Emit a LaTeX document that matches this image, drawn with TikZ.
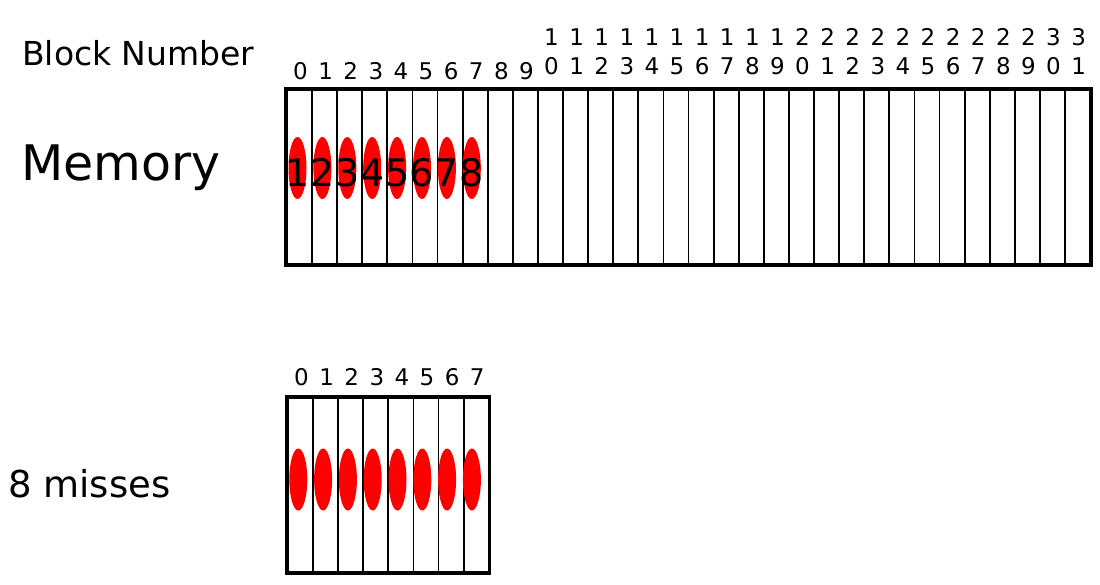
\documentclass[tikz,border=0pt]{standalone}
\usepackage{fontspec}
\setmainfont{DejaVu Sans}
\usepackage{tikz}
\usetikzlibrary{shapes,positioning}
\tikzstyle{cell} = [rectangle, draw=black, line width=1.8pt, minimum width=25.1pt, minimum height=174pt, inner sep=0pt, anchor=north west]
\tikzstyle{frame} = [draw=black, line width=3.5pt]
\tikzstyle{blk} = [ellipse, fill=red, minimum width=18pt, minimum height=62pt, inner sep=0pt]
\tikzstyle{blknum} = [inner sep=0pt, anchor=base, font=\fontsize{38}{38}\selectfont]
\tikzstyle{num} = [inner sep=0pt, anchor=base, font=\fontsize{23}{23}\selectfont]
\tikzstyle{textonly} = [inner sep=0pt, anchor=base west]

\begin{document}
\begin{tikzpicture}[x=1pt, y=-1pt]
\useasboundingbox (0,0) rectangle (1100,584);

% labels on the left =====================
\node[textonly, font=\fontsize{33}{33}\selectfont] (blocklabel) at (22,65) {Block Number};
\node[textonly, font=\fontsize{49}{49}\selectfont] (memlabel) at (21,180) {Memory};
\node[textonly, font=\fontsize{37}{37}\selectfont] (misslabel) at (8,497) {8 misses};

% memory =================================
\foreach \i in {0,...,31}
  \node[cell] (m\i) at ({286+\i*25.1},89) {};
\draw[frame] (m0.north west) rectangle (m31.south east);

% block numbers
\foreach \i in {0,...,9}
  \node[num] (bn\i) at ({288+(\i+0.5)*25.1},79) {\i};
\foreach \i in {10,...,31} {
  \pgfmathtruncatemacro\tens{\i/10}
  \pgfmathtruncatemacro\ones{\i-10*\tens}
  \node[num] (bt\i) at ({288+(\i+0.5)*25.1},45) {\tens};
  \node[num] (bo\i) at ({288+(\i+0.5)*25.1},74) {\ones};
}

% blocks in memory
\foreach \i [evaluate=\i as \n using int(\i+1)] in {0,...,7} {
  \node[blk] (mb\i) at ({297.5+\i*24.9},168) {};
  \node[blknum] (md\i) at ({297.5+\i*24.9},186) {\n};
}

% cache ==================================
\foreach \i in {0,...,7}
  \node[cell] (c\i) at ({287+\i*25.1},397) {};
\draw[frame] (c0.north west) rectangle (c7.south east);

\foreach \i in {0,...,7}
  \node[num] (cn\i) at ({289+(\i+0.5)*25.1},385) {\i};

% blocks in cache
\foreach \i in {0,...,7}
  \node[blk] (cb\i) at ({298.3+\i*24.8},479.5) {};

\end{tikzpicture}
\end{document}
